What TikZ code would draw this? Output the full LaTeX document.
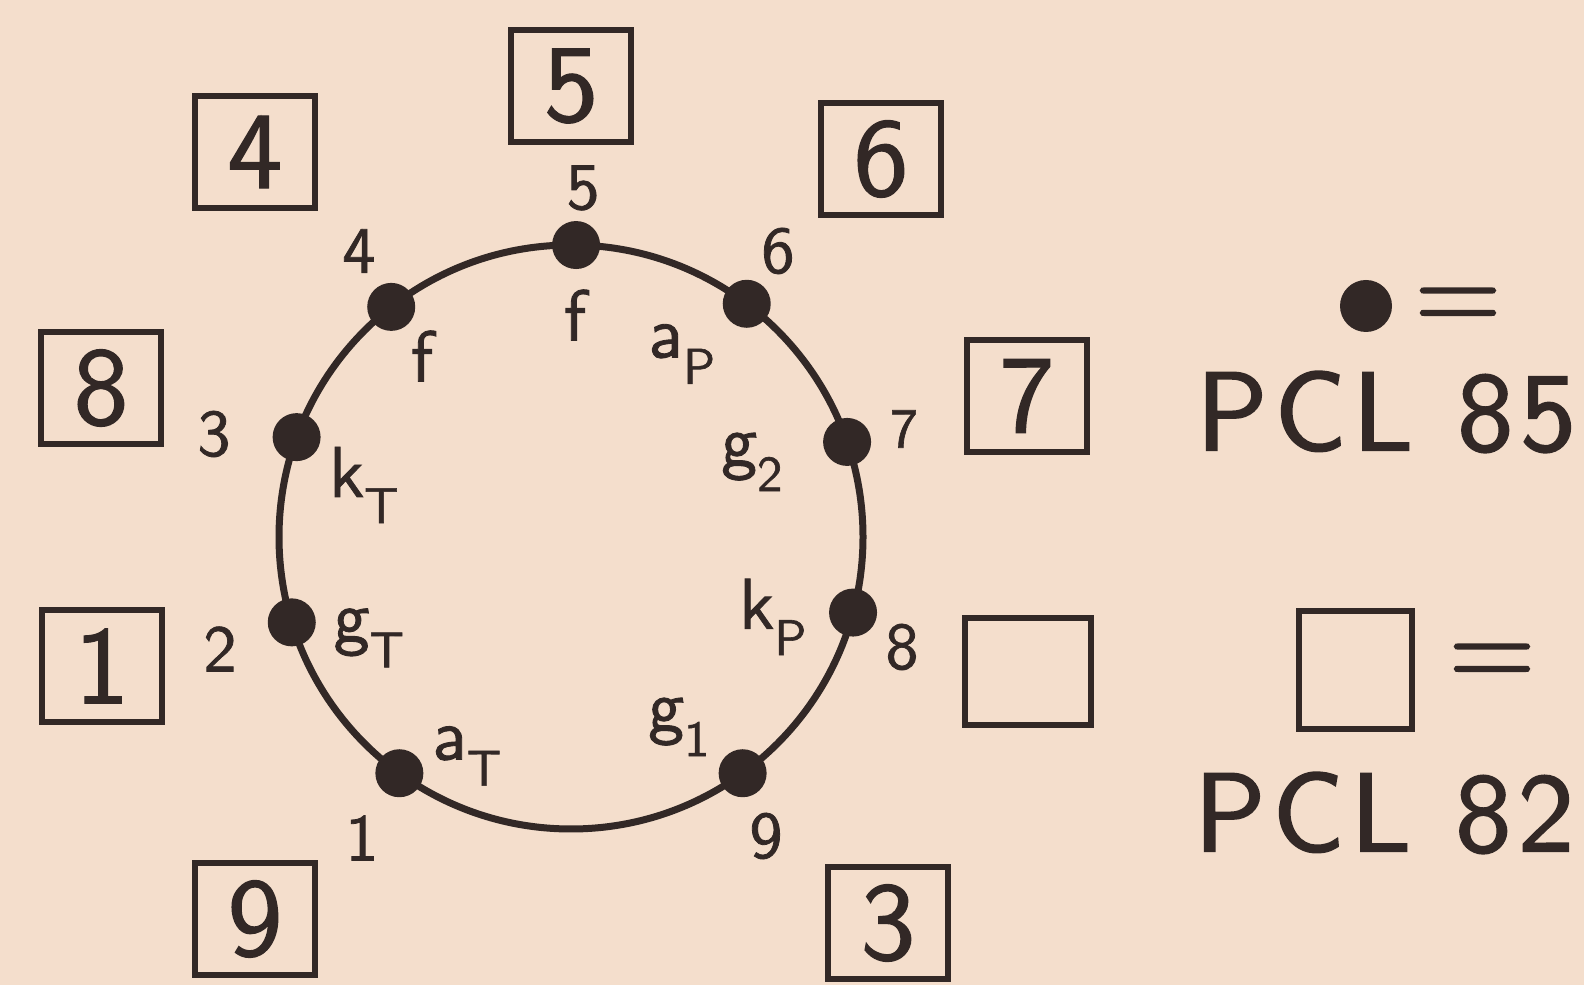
\documentclass[tikz,border=0pt]{standalone}
\usepackage{fontspec}
\setsansfont{lmsans10-regular.otf}
\newfontfamily\plate[FakeBold=1.6,LetterSpace=6]{lmsans10-regular.otf}
\newfontfamily\pinfont[FakeBold=1.2]{lmsans10-regular.otf}
\definecolor{paper}{RGB}{244,222,204}
\definecolor{ink}{RGB}{50,40,38}

\begin{document}
\begin{tikzpicture}[x=1pt,y=1pt,line width=5pt,color=ink,font=\sffamily,
  dot/.style={circle,fill=ink,inner sep=0pt,minimum size=48pt},
  numlab/.style={font=\pinfont\fontsize{66}{66}\selectfont,inner sep=0pt},
  letlab/.style={font=\pinfont\fontsize{72}{72}\selectfont,inner sep=0pt},
  slot/.style={draw=ink,line width=6pt,minimum width=120pt,minimum height=112pt,inner sep=0pt,
    font=\pinfont\fontsize{110}{110}\selectfont},
  legtext/.style={font=\plate\fontsize{112}{112}\selectfont,inner sep=0pt}]
\fill[paper] (0,0) rectangle (1584,985);
\useasboundingbox (0,0) rectangle (1584,985);
% ring with the nine pins
\coordinate (c) at (571,448);
\draw[line width=7pt] (c) circle (292);
\node[dot] (d1) at ([shift={(234:292)}]c) {};
\node[dot] (d2) at ([shift={(197:292)}]c) {};
\node[dot] (d3) at ([shift={(160:292)}]c) {};
\node[dot] (d4) at ([shift={(128:292)}]c) {};
\node[dot] (d5) at ([shift={(89:292)}]c) {};
\node[dot] (d6) at ([shift={(53:292)}]c) {};
\node[dot] (d7) at ([shift={(19:292)}]c) {};
\node[dot] (d8) at ([shift={(-15:292)}]c) {};
\node[dot] (d9) at ([shift={(-54:292)}]c) {};
% pin numbers
\node[numlab] (n1) at (362,147) {1};\node[numlab] (n2) at (220,336) {2};
\node[numlab] (n3) at (214,551) {3};\node[numlab] (n4) at (359,734) {4};
\node[numlab] (n5) at (583,797) {5};\node[numlab] (n6) at (778,734) {6};
\node[numlab,font=\pinfont\fontsize{56}{56}\selectfont] (n7) at (904,556) {7};
\node[numlab] (n8) at (902,338) {8};\node[numlab] (n9) at (766,149) {9};
% electrode names
\node[letlab] (f4) at (422,629) {f};\node[letlab] (f5) at (575,670) {f};
\node[letlab] (aP) at (682,631) {a\textsubscript{P}};
\node[letlab] (g2) at (752,523) {g\textsubscript{2}};
\node[letlab] (kT) at (364,500) {k\textsubscript{T}};
\node[letlab] (gT) at (369,347) {g\textsubscript{T}};
\node[letlab] (kP) at (773,368) {k\textsubscript{P}};
\node[letlab] (aT) at (467,229) {a\textsubscript{T}};
\node[letlab] (g1) at (679,258) {g\textsubscript{1}};
% boxes
\node[slot] (b5) at (571,899) {5};\node[slot] (b4) at (255,833) {4};
\node[slot] (b6) at (881,826) {6};\node[slot] (b8) at (101,597) {8};
\node[slot] (b7) at (1027,589) {7};\node[slot] (b1) at (102,319) {1};
\node[slot,minimum width=126pt,minimum height=107pt] (bE) at (1028,313) {};
\node[slot] (b9) at (255,66) {9};\node[slot] (b3) at (888,62) {3};
% legend
\node[dot,minimum size=52pt] (ldot) at (1366,679) {};
\node[legtext] (leq1) at (1458,676) {=};
\node[legtext] (lt85) at (1386,573) {PCL 85};
\node[slot,minimum width=113pt,minimum height=118pt] (lbox) at (1355,315) {};
\node[legtext] (leq2) at (1492,320) {=};
\node[legtext] (lt82) at (1384,172) {PCL 82};
\end{tikzpicture}
\end{document}
